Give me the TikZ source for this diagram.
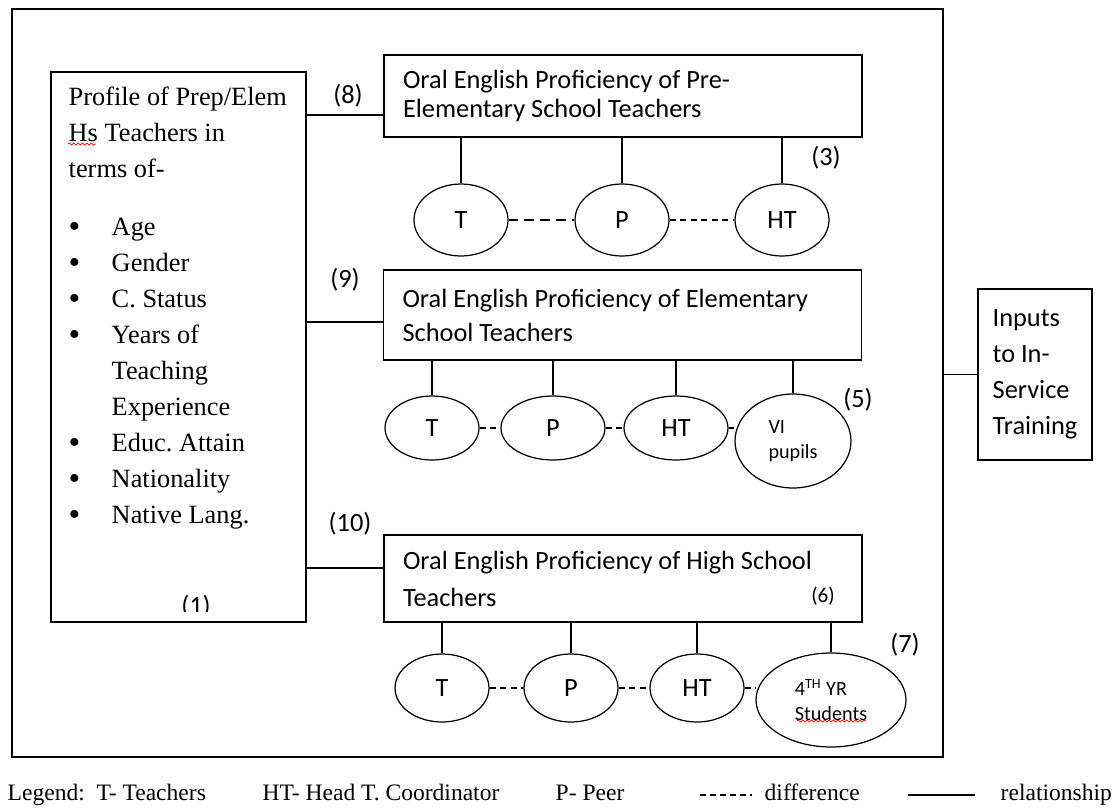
\documentclass[tikz,border=0pt]{standalone}
\usepackage{fontspec}
\setmainfont{Liberation Serif}
\newfontfamily\calib{Carlito}
\frenchspacing
\usetikzlibrary{shapes.geometric, positioning, decorations.pathmorphing}
\tikzset{
    framework/.style={x=0.02cm, y=-0.02cm, line width=0.8pt},
    block/.style={draw, align=flush left, inner xsep=0.38cm, text width=8.8cm, font=\calib\fontsize{15}{19.3}\selectfont},
    oval/.style={draw, ellipse, inner sep=0pt, line width=0.7pt, minimum width=1.88cm, font=\calib\fontsize{15}{18}\selectfont},
    smalloval/.style={oval, align=left, font=\calib\fontsize{11.5}{14}\selectfont},
    num/.style={inner sep=0pt, font=\calib\fontsize{15}{18}\selectfont},
    rel/.style={line width=0.7pt},
    diff/.style={line width=0.7pt, dash pattern=on 3.5pt off 2.5pt},
    legendtext/.style={anchor=base west, inner sep=0pt, font=\fontsize{13.4}{16}\selectfont},
    % spell-check underline, as in the screenshot
    spell/.style={red, line width=0.4pt, decorate, decoration={snake, amplitude=0.6pt, segment length=2.5pt}},
}
\newcommand{\pitem}[1]{\makebox[24.5pt][l]{\raisebox{-1pt}{\fontsize{19}{19}\selectfont\textbullet}}#1}

\begin{document}
\begin{tikzpicture}[framework]
    \useasboundingbox (0,0) rectangle (1115,808);

    % frame round the model
    \node[draw, minimum width=18.62cm, minimum height=14.96cm] (frame) at (477.5,383) {};

    % profile of the teachers
    \node[draw, minimum width=5.1cm, minimum height=11cm] (profile) at (178.5,347) {};
    \node[anchor=north west, inner sep=0pt, align=left, font=\fontsize{15}{20.5}\selectfont] (proftext) at (68,86)
        {Profile of Prep/Elem\\ Hs Teachers in\\ terms of-\\[12.5pt]
         \pitem{Age}\\ \pitem{Gender}\\ \pitem{C. Status}\\ \pitem{Years of}\\
         \hspace*{24.5pt}Teaching\\ \hspace*{24.5pt}Experience\\
         \pitem{Educ. Attain}\\ \pitem{Nationality}\\ \pitem{Native Lang.}};
    \draw[spell] (68,144) -- (96,144);
    \begin{scope}
        \clip (120,590) rectangle (260,611);
        \node[num] (n1) at (196,607) {(1)};
    \end{scope}

    % proficiency boxes
    \node[block, minimum height=1.64cm, font=\calib\fontsize{15}{16.5}\selectfont] (pre) at (623,96)
        {Oral English Proficiency of Pre-\\Elementary School Teachers};
    \node[block, minimum height=1.8cm] (elem) at (622.5,315)
        {Oral English Proficiency of Elementary\\School Teachers};
    \node[block, minimum height=1.74cm, font=\calib\fontsize{15}{21}\selectfont] (hs) at (623,578.5)
        {Oral English Proficiency of High School\\Teachers};
    \node[num, font=\calib\fontsize{12}{14}\selectfont] (n6) at (823,596) {(6)};

    % raters
    \node[oval, minimum height=1.44cm] (t1) at (461,220) {T};
    \node[oval, minimum height=1.44cm] (p1) at (622,220) {P};
    \node[oval, minimum height=1.44cm] (ht1) at (782,220) {HT};

    \node[oval, minimum height=1.28cm] (t2) at (432,428) {T};
    \node[oval, minimum width=2.08cm, minimum height=1.28cm] (p2) at (553,428) {P};
    \node[oval, minimum width=2.08cm, minimum height=1.28cm] (ht2) at (676,428) {HT};
    \node[smalloval, minimum width=2.32cm, minimum height=1.88cm] (vi) at (793,441) {VI\\pupils};

    \node[oval, minimum height=1.36cm] (t3) at (442,688) {T};
    \node[oval, minimum height=1.36cm] (p3) at (571,688) {P};
    \node[oval, minimum height=1.36cm] (ht3) at (697,688) {HT};
    \node[smalloval, minimum width=3cm, minimum height=1.88cm] (yr4) at (831,700) {4\textsuperscript{TH} YR\\Students};
    \draw[spell] (797,721) -- (866,721);

    \foreach \e in {t1,p1,ht1}
        \draw[rel] (\e.north) -- (\e.north |- pre.south);
    \foreach \e in {t2,p2,ht2,vi}
        \draw[rel] (\e.north) -- (\e.north |- elem.south);
    \foreach \e in {t3,p3,ht3,yr4}
        \draw[rel] (\e.north) -- (\e.north |- hs.south);

    \draw[diff, dash pattern=on 5.5pt off 3.5pt] (t1) -- (p1);
    \draw[diff] (p1) -- (ht1);
    \draw[diff] (t2) -- (p2);
    \draw[diff] (p2) -- (ht2);
    \draw[diff] (ht2.east) -- (ht2.east -| vi.west);
    \draw[diff] (t3) -- (p3);
    \draw[diff] (p3) -- (ht3);
    \draw[diff] (ht3.east) -- (ht3.east -| yr4.west);

    \node[num] (n3) at (826,158) {(3)};
    \node[num] (n5) at (858,400) {(5)};
    \node[num] (n7) at (905,645) {(7)};

    % profile to proficiency
    \draw[rel] ([yshift=-0.38cm]pre.west) -- ([yshift=-0.38cm]pre.west -| profile.east);
    \draw[rel] ([yshift=-0.14cm]elem.west) -- ([yshift=-0.14cm]elem.west -| profile.east);
    \draw[rel] ([yshift=0.21cm]hs.west) -- ([yshift=0.21cm]hs.west -| profile.east);
    \node[num] (n8) at (348,96) {(8)};
    \node[num] (n9) at (345,280) {(9)};
    \node[num] (n10) at (350,524) {(10)};

    % output
    \node[draw, align=left, minimum width=2.28cm, minimum height=3.42cm, font=\calib\fontsize{15}{20.5}\selectfont] (inputs) at (1035,374.5)
        {Inputs\\to In-\\Service\\Training};
    \draw[rel] (inputs.west) -- (inputs.west -| frame.east);

    % legend
    \node[legendtext] (lt) at (7,800) {Legend:\ \ T- Teachers};
    \node[legendtext] (lht) at (262,800) {HT- Head T. Coordinator};
    \node[legendtext] (lp) at (555,800) {P- Peer};
    \coordinate (ld1) at (700,795);
    \coordinate (ld2) at (752,795);
    \draw[rel, dash pattern=on 3.4pt off 2.3pt] (ld1) -- (ld2);
    \node[legendtext] (ldiff) at (764,800) {difference};
    \coordinate (ls1) at (908,795);
    \coordinate (ls2) at (975,795);
    \draw[rel] (ls1) -- (ls2);
    \node[legendtext] (lrel) at (1000,800) {relationship};
\end{tikzpicture}
\end{document}
